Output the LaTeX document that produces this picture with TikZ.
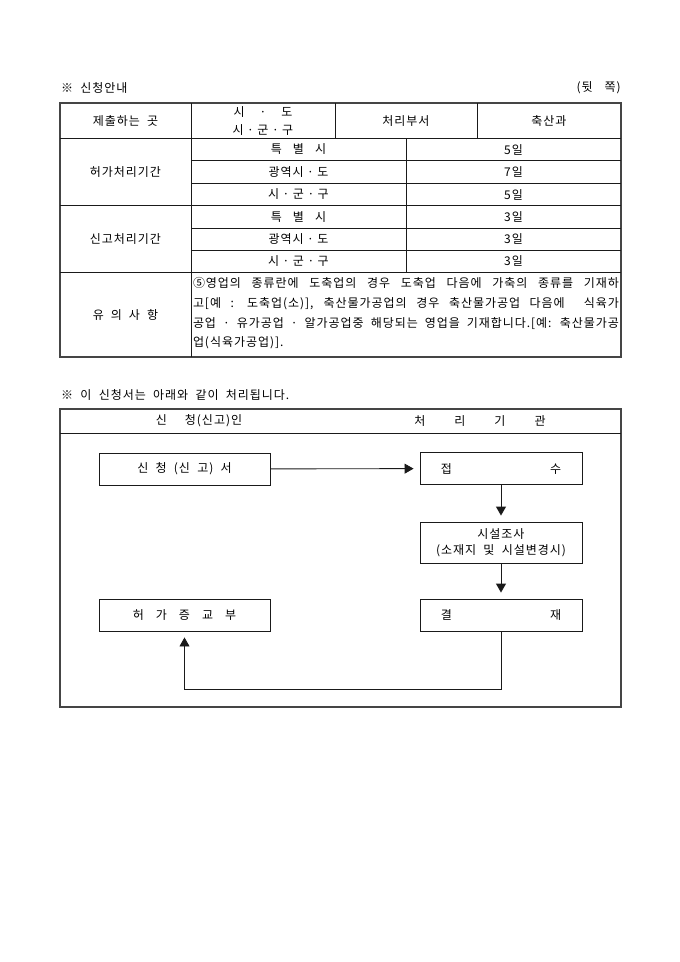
\documentclass[tikz,border=0pt]{standalone}
\usepackage{fontspec}
\setmainfont{Noto Sans CJK KR}[WordSpace=2,LetterSpace=8]
\usetikzlibrary{arrows.meta,positioning}

\definecolor{fmink}{HTML}{1A1A1A}
\definecolor{fmframe}{HTML}{454545}

\begin{document}
\begin{tikzpicture}[
  x=1pt,y=-1pt,
  font=\fontsize{12}{16}\selectfont,
  rule/.style={draw=fmink,line width=.9pt},
  frame/.style={draw=fmframe,line width=1.3pt},
  cell/.style={inner sep=0pt},
  flowbox/.style={draw=fmink,line width=.9pt,inner sep=0pt,align=center,
                  minimum width=162pt,minimum height=32pt},
  flow/.style={draw=fmink,line width=.9pt,
               -{Triangle[width=10pt,length=9pt]},shorten >=6pt}
]
  \path[use as bounding box] (0,0) rectangle (680,962);
  % guide table
  \node[cell,anchor=west] (guide) at (61,88) {※ 신청안내};
  \node[cell,anchor=east] (side) at (621,88) {(뒷\hspace{12pt}쪽)};
  \draw[frame] (60,103) rectangle (621,357);
  \draw[rule] (191,103)--(191,357);
  \draw[rule] (335,103)--(335,138);
  \draw[rule] (477,103)--(477,138);
  \draw[rule] (406,138)--(406,272);
  \foreach \y in {138,205.5,272}{
    \draw[rule] (60,\y)--(621,\y);
  }
  \foreach \y in {160.5,183,228,250}{
    \draw[rule] (191,\y)--(621,\y);
  }
  \node[cell] (office) at (125.5,121) {제출하는 곳};
  \node[cell,align=center] (level) at (263,121)
    {시\hspace{15pt}·\hspace{15pt}도\\[2pt]시\hspace{3.5pt}·\hspace{3.5pt}군\hspace{3.5pt}·\hspace{3.5pt}구};
  \node[cell] (dept) at (406,121) {처리부서};
  \node[cell] (deptname) at (549,121) {축산과};
  \node[cell] (permit) at (125.5,172) {허가처리기간};
  \node[cell] (report) at (125.5,239) {신고처리기간};
  \foreach \y/\reg/\days in {
      149.5/{특\hspace{11pt}별\hspace{11pt}시}/5일,
      172/{광역시\hspace{3.5pt}·\hspace{3.5pt}도}/7일,
      194.5/{시\hspace{3.5pt}·\hspace{3.5pt}군\hspace{3.5pt}·\hspace{3.5pt}구}/5일,
      217/{특\hspace{11pt}별\hspace{11pt}시}/3일,
      239/{광역시\hspace{3.5pt}·\hspace{3.5pt}도}/3일,
      261/{시\hspace{3.5pt}·\hspace{3.5pt}군\hspace{3.5pt}·\hspace{3.5pt}구}/3일}{
    \node[cell] at (298.5,\y) {\reg};
    \node[cell] at (513.5,\y) {\days};
  }
  \node[cell] (notice) at (125.5,314.5) {유\hspace{7pt}의\hspace{7pt}사\hspace{7pt}항};
  \node[cell,align=left,font=\fontsize{12}{19.7}\selectfont] (noticetext) at (406,313.5)
    {\makebox[426pt][s]{⑤영업의 종류란에 도축업의 경우 도축업 다음에 가축의 종류를 기재하}\\
     \makebox[426pt][s]{고[예 : 도축업(소)], 축산물가공업의 경우 축산물가공업 다음에 \ 식육가}\\
     \makebox[426pt][s]{공업 · 유가공업 · 알가공업중 해당되는 영업을 기재합니다.[예: 축산물가공}\\
     \makebox[426pt][l]{업(식육가공업)].}};

  % process chart
  \node[cell,anchor=west] (guide2) at (61,395) {※ 이 신청서는 아래와 같이 처리됩니다.};
  \draw[frame] (60,409) rectangle (621,707);
  \draw[rule] (60,433)--(621,433);
  \node[cell] (applicant) at (199,421) {신\hspace{18pt}청(신고)인};
  \node[cell] (agency) at (480,421) {처\hspace{29pt}리\hspace{29pt}기\hspace{29pt}관};

  \node[flowbox,minimum width=171pt] (apply) at (184.5,469) {신 청 (신 고) 서};
  \node[flowbox] (receipt) at (501,468.5) {접\hspace{98pt}수};
  \node[flowbox,minimum height=41pt] (survey) at (501,542.5) {시설조사\\(소재지 및 시설변경시)};
  \node[flowbox] (approve) at (501,615) {결\hspace{98pt}재};
  \node[flowbox,minimum width=171pt] (issue) at (184.5,615)
    {허\hspace{12pt}가\hspace{12pt}증\hspace{12pt}교\hspace{12pt}부};

  \draw[flow] (apply) -- (receipt);
  \draw[flow] (receipt) -- (survey);
  \draw[flow] (survey) -- (approve);
  \draw[flow] (approve.south) -- ++(0,58) -| (issue.south);
\end{tikzpicture}
\end{document}
